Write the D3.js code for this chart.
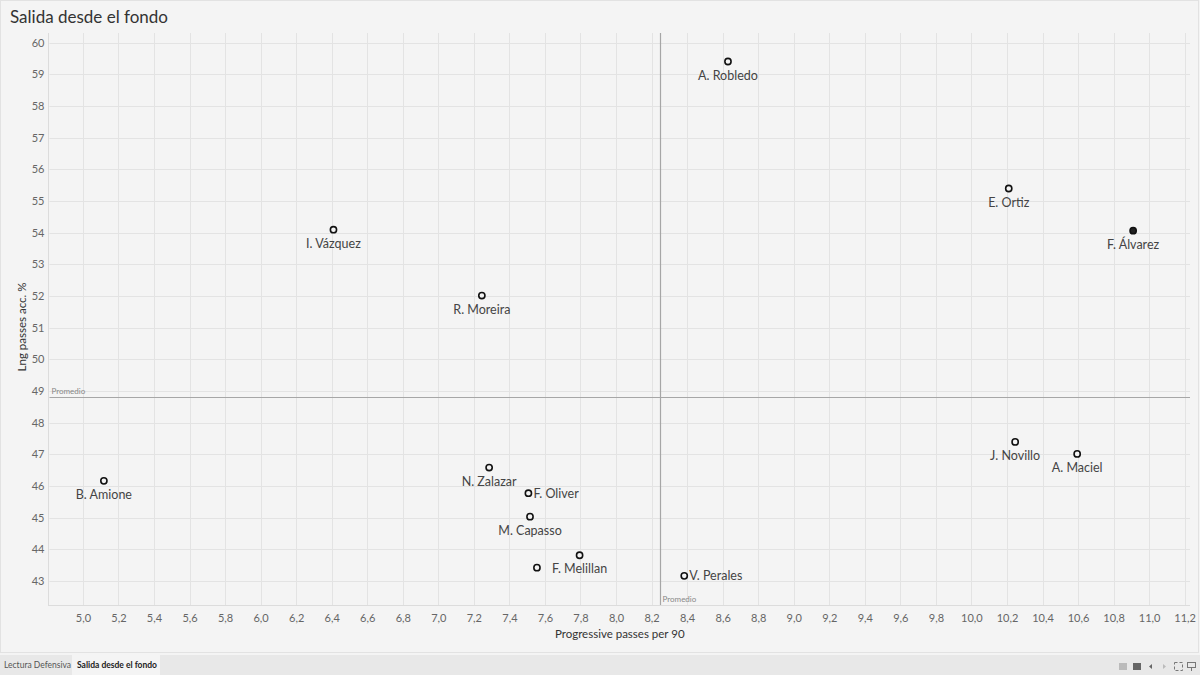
<!DOCTYPE html>
<html>
<head>
<meta charset="utf-8">
<script src="https://cdn.jsdelivr.net/npm/d3@7"></script>
<style>
  html, body { margin: 0; padding: 0; background: #f4f4f4; }
  svg { display: block; font-family: Lato, "Noto Sans", sans-serif; }
</style>
</head>
<body>
<svg id="chart" width="1200" height="675"></svg>
<script>
// ---- data ----
const players = ["A. Robledo", "E. Ortiz", "F. Álvarez", "I. Vázquez", "R. Moreira", "B. Amione",
  "N. Zalazar", "F. Oliver", "M. Capasso", "F. Melillan", "", "V. Perales", "J. Novillo", "A. Maciel"];
const progPasses = [8.63, 10.21, 10.91, 6.41, 7.245, 5.118, 7.286, 7.507, 7.516, 7.795, 7.555, 8.384, 10.246, 10.595];
const lngAcc = [59.4, 55.39, 54.06, 54.09, 52.01, 46.16, 46.58, 45.77, 45.03, 43.81, 43.42, 43.16, 47.39, 47.01];
const labelSide = ["below", "below", "below", "below", "below", "below", "below", "right", "below", "below", "none", "right", "below", "below"];
const highlighted = ["F. Álvarez"];
const xTicks = [5.0, 5.2, 5.4, 5.6, 5.8, 6.0, 6.2, 6.4, 6.6, 6.8, 7.0, 7.2, 7.4, 7.6, 7.8, 8.0, 8.2, 8.4, 8.6, 8.8, 9.0, 9.2, 9.4, 9.6, 9.8, 10.0, 10.2, 10.4, 10.6, 10.8, 11.0, 11.2];
const yTicks = [43, 44, 45, 46, 47, 48, 49, 50, 51, 52, 53, 54, 55, 56, 57, 58, 59, 60];
const avgX = 8.245;
const avgY = 48.81;
const title = "Salida desde el fondo";
const xTitle = "Progressive passes per 90";
const yTitle = "Lng passes acc. %";
const tabs = ["Lectura Defensiva", "Salida desde el fondo"];

// ---- layout ----
const svg = d3.select("#chart");
const W = 1200, H = 675;
const plot = { left: 49.5, right: 1190, top: 33, bottom: 605 };

svg.append("rect").attr("x", 0).attr("y", 0).attr("width", W).attr("height", H).attr("fill", "#f4f4f4");
// outer frame
svg.append("rect").attr("x", 0.5).attr("y", 0.5).attr("width", W - 2).attr("height", 652)
  .attr("fill", "#f4f4f4").attr("stroke", "#e2e2e2");

const x = d3.scaleLinear().domain([4.812, 11.23]).range([plot.left, plot.right]);
const y = d3.scaleLinear().domain([42.24, 60.3]).range([plot.bottom, plot.top]);

// title
svg.append("text").attr("x", 10).attr("y", 23).attr("font-size", 17).attr("fill", "#333")
  .text(title);

// gridlines
const grid = svg.append("g");
grid.selectAll("line.vx").data(xTicks).join("line")
  .attr("x1", d => Math.round(x(d)) + 0.5).attr("x2", d => Math.round(x(d)) + 0.5)
  .attr("y1", plot.top).attr("y2", plot.bottom)
  .attr("stroke", "#e3e3e3").attr("stroke-width", 1);
grid.selectAll("line.hy").data(yTicks).join("line")
  .attr("y1", d => Math.round(y(d)) + 0.5).attr("y2", d => Math.round(y(d)) + 0.5)
  .attr("x1", plot.left).attr("x2", plot.right)
  .attr("stroke", "#e3e3e3").attr("stroke-width", 1);

// axis edges
svg.append("line").attr("x1", 48.5).attr("x2", 48.5)
  .attr("y1", plot.top).attr("y2", plot.bottom + 1).attr("stroke", "#dcdcdc");
svg.append("line").attr("x1", 48).attr("x2", plot.right)
  .attr("y1", plot.bottom + 0.5).attr("y2", plot.bottom + 0.5).attr("stroke", "#dcdcdc");

// axes via d3 axis generators
const fmt = d => d3.format(".1f")(d).replace(".", ",");
const xAxis = svg.append("g").attr("transform", `translate(0,${plot.bottom})`)
  .call(d3.axisBottom(x).tickValues(xTicks).tickFormat(fmt).tickSize(0).tickPadding(9));
xAxis.select(".domain").remove();
xAxis.selectAll("text").attr("font-size", 11).attr("fill", "#666")
  .attr("font-family", "Lato, 'Noto Sans', sans-serif");

const yAxis = svg.append("g").attr("transform", `translate(${plot.left},0)`)
  .call(d3.axisLeft(y).tickValues(yTicks).tickFormat(d3.format("d")).tickSize(0).tickPadding(5));
yAxis.select(".domain").remove();
yAxis.selectAll("text").attr("font-size", 11).attr("fill", "#666")
  .attr("font-family", "Lato, 'Noto Sans', sans-serif");

// axis titles
svg.append("text").attr("x", (plot.left + plot.right) / 2).attr("y", 638)
  .attr("text-anchor", "middle").attr("font-size", 11.5).attr("fill", "#333").text(xTitle);
svg.append("text").attr("transform", `translate(26,${(plot.top + plot.bottom) / 2 + 8}) rotate(-90)`)
  .attr("text-anchor", "middle").attr("font-size", 11.5).attr("fill", "#333").text(yTitle);

// reference lines
svg.append("line").attr("x1", Math.round(x(avgX)) + 0.5).attr("x2", Math.round(x(avgX)) + 0.5)
  .attr("y1", plot.top).attr("y2", plot.bottom).attr("stroke", "#a6a6a6").attr("stroke-width", 1.2);
svg.append("line").attr("y1", Math.round(y(avgY)) + 0.5).attr("y2", Math.round(y(avgY)) + 0.5)
  .attr("x1", plot.left).attr("x2", plot.right).attr("stroke", "#a6a6a6").attr("stroke-width", 1.2);
svg.append("text").attr("x", plot.left + 2).attr("y", y(avgY) - 3)
  .attr("font-size", 8).attr("fill", "#888").text("Promedio");
svg.append("text").attr("x", x(avgX) + 3).attr("y", plot.bottom - 3)
  .attr("font-size", 8).attr("fill", "#888").text("Promedio");

// points
const data = players.map((p, i) => ({ name: p, px: progPasses[i], py: lngAcc[i], side: labelSide[i] }));
const pts = svg.append("g");
pts.selectAll("circle").data(data).join("circle")
  .attr("cx", d => x(d.px)).attr("cy", d => y(d.py)).attr("r", 3.1)
  .attr("fill", d => highlighted.includes(d.name) ? "#222" : "#f4f4f4")
  .attr("stroke", "#111").attr("stroke-width", 1.6);

pts.selectAll("text").data(data.filter(d => d.side !== "none")).join("text")
  .attr("x", d => d.side === "right" ? x(d.px) + 5 : x(d.px))
  .attr("y", d => d.side === "right" ? y(d.py) + 4.5 : y(d.py) + 18)
  .attr("text-anchor", d => d.side === "right" ? "start" : "middle")
  .attr("font-size", 12.5).attr("fill", "#444")
  .text(d => d.name);

// tab bar
svg.append("rect").attr("x", 0).attr("y", 655).attr("width", W).attr("height", 20).attr("fill", "#e8e8e8");
svg.append("rect").attr("x", 72).attr("y", 655).attr("width", 88).attr("height", 20).attr("fill", "#f4f4f4");
svg.append("text").attr("x", 4).attr("y", 668).attr("font-size", 8.5).attr("fill", "#555").text(tabs[0]);
svg.append("text").attr("x", 77).attr("y", 668).attr("font-size", 8.5).attr("fill", "#222")
  .attr("font-weight", "bold").text(tabs[1]);

// toolbar icons
const ic = svg.append("g");
ic.append("rect").attr("x", 1119).attr("y", 663).attr("width", 8).attr("height", 7).attr("fill", "#bbb");
ic.append("rect").attr("x", 1133).attr("y", 663).attr("width", 8).attr("height", 7).attr("fill", "#666");
ic.append("path").attr("d", "M1152,664 L1149,666.5 L1152,669 Z").attr("fill", "#666");
ic.append("path").attr("d", "M1163,664 L1166,666.5 L1163,669 Z").attr("fill", "#bbb");
ic.append("rect").attr("x", 1174.5).attr("y", 662.5).attr("width", 8).attr("height", 8)
  .attr("fill", "none").attr("stroke", "#777").attr("stroke-dasharray", "3,2");
ic.append("rect").attr("x", 1187.5).attr("y", 662.5).attr("width", 8).attr("height", 5)
  .attr("fill", "none").attr("stroke", "#777");
ic.append("line").attr("x1", 1191.5).attr("x2", 1191.5).attr("y1", 667.5).attr("y2", 671).attr("stroke", "#777");
</script>
</body>
</html>
